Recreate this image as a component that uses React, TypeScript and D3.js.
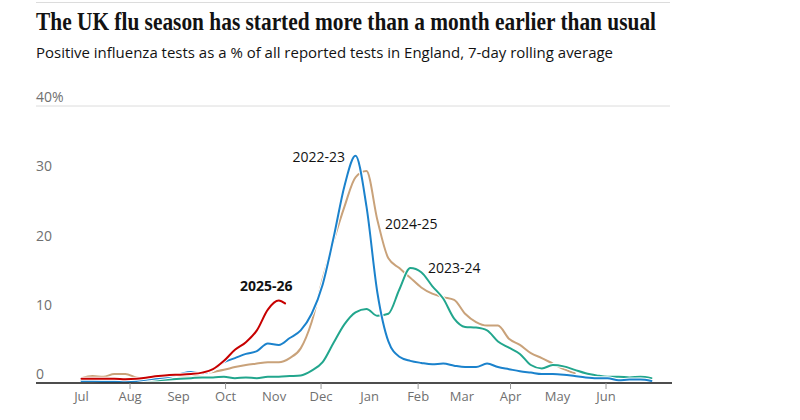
import * as d3 from 'd3';

// Season runs from 1 July to 30 June; values are sampled weekly from 1 July
const seasonStart = new Date(2022, 6, 1);
const seasonEnd = new Date(2023, 6, 1);
const weeks = d3.range(53);

const months = ['Jul', 'Aug', 'Sep', 'Oct', 'Nov', 'Dec', 'Jan', 'Feb', 'Mar', 'Apr', 'May', 'Jun'];
const tickedMonths = ['Aug', 'Oct', 'Dec', 'Feb', 'Apr', 'Jun'];
const yTicks = [0, 10, 20, 30, 40];

// Positivity, % of tests, 7-day rolling average
const flu2022 = [
  0.3, 0.3, 0.2, 0.2, 0.2, 0.3, 0.5, 0.7, 0.9, 1.3, 1.6, 1.4, 1.9, 3.0, 3.6, 4.2, 4.6, 5.7, 5.5, 6.5,
  7.6, 10.0, 14.2, 21.0, 28.5, 32.8, 25.5, 13.0, 6.0, 3.8, 3.2, 2.9, 2.7, 2.8, 2.5, 2.3, 2.3, 2.8, 2.3,
  2.0, 1.7, 1.5, 1.3, 1.3, 1.2, 1.0, 0.8, 0.7, 0.7, 0.4, 0.5, 0.5, 0.3,
];
const flu2023 = [
  0.3, 0.3, 0.2, 0.2, 0.2, 0.2, 0.4, 0.4, 0.5, 0.6, 0.7, 0.8, 0.8, 0.9, 0.7, 0.8, 0.7, 0.9, 0.9, 1.0,
  1.1, 1.8, 3.0, 5.8, 8.5, 10.2, 10.7, 9.7, 10.0, 13.5, 16.6, 16.0, 14.0, 12.2, 9.3, 8.1, 8.0, 7.6, 6.0,
  5.1, 4.2, 2.6, 2.1, 2.6, 2.4, 1.9, 1.4, 1.1, 0.9, 0.9, 0.8, 0.9, 0.7,
];
const flu2024 = [
  0.7, 1.0, 0.9, 1.3, 1.3, 0.8, 0.6, 0.8, 0.9, 1.0, 1.1, 1.3, 1.6, 1.9, 2.3, 2.6, 2.8, 3.0, 3.0, 3.6,
  5.0, 8.8, 15.0, 20.5, 25.5, 29.7, 30.6, 23.5, 18.0, 16.6, 15.2, 13.8, 12.9, 12.4, 12.0, 10.0, 8.8, 8.3,
  8.3, 6.4, 5.5, 4.3, 3.6, 2.8, 2.0, 1.4,
];
const flu2025 = [
  0.6, 0.6, 0.6, 0.6, 0.55, 0.6, 0.8, 1.0, 1.15, 1.2, 1.3, 1.5, 2.0, 3.2, 4.8, 5.9, 7.6, 10.6, 11.9,
];
const latest2025 = { day: 130, value: 11.5 };

const colors = {
  flu2022: '#1b82cc',
  flu2023: '#22a68d',
  flu2024: '#c9a27a',
  flu2025: '#c70000',
};

const x = d3.scaleTime().domain([seasonStart, seasonEnd]).range([81.5, 653]);
const y = d3.scaleLinear().domain([0, 40]).range([383, 106]);

const toPoints = (values: number[]) =>
  values.map((v, i) => ({ date: d3.timeDay.offset(seasonStart, weeks[i] * 7), value: v }));

const line = d3
  .line<{ date: Date; value: number }>()
  .x((d) => x(d.date))
  .y((d) => y(d.value))
  .curve(d3.curveMonotoneX);

const sans = '"Open Sans", "Noto Sans", sans-serif';

export default function App() {
  const series = [
    { key: 'flu2024', points: toPoints(flu2024) },
    { key: 'flu2023', points: toPoints(flu2023) },
    { key: 'flu2022', points: toPoints(flu2022) },
    {
      key: 'flu2025',
      points: [
        ...toPoints(flu2025),
        { date: d3.timeDay.offset(seasonStart, latest2025.day), value: latest2025.value },
      ],
    },
  ];

  const monthStarts = months.map((m, i) => ({ name: m, date: d3.timeMonth.offset(seasonStart, i) }));

  return (
    <svg
      width={800}
      height={420}
      style={{ position: 'absolute', left: 0, top: 0, background: '#fff' }}
    >
      <line x1={36} x2={670} y1={2.5} y2={2.5} stroke="#dcdcdc" strokeWidth={1} />
      <text
        x={36}
        y={30}
        fontFamily='"Liberation Serif", "DejaVu Serif", serif'
        fontWeight={700}
        fontSize={25}
        fill="#121212"
        textLength={620}
        lengthAdjust="spacingAndGlyphs"
      >
        The UK flu season has started more than a month earlier than usual
      </text>
      <text
        x={36}
        y={58}
        fontFamily={sans}
        fontSize={15}
        fill="#121212"
        textLength={577}
        lengthAdjust="spacingAndGlyphs"
      >
        Positive influenza tests as a % of all reported tests in England, 7-day rolling average
      </text>

      {/* y axis */}
      <line x1={36} x2={670} y1={y(40)} y2={y(40)} stroke="#dcdcdc" strokeWidth={1} />
      {yTicks.map((t) => (
        <text key={t} x={36} y={y(t) - 4} fontFamily={sans} fontSize={14} fill="#707070">
          {t === 40 ? '40%' : t}
        </text>
      ))}

      {/* series */}
      {series.map((s) => (
        <g key={s.key} fill="none" strokeLinejoin="round" strokeLinecap="round">
          <path d={line(s.points) || ''} stroke="#fff" strokeWidth={4} />
          <path d={line(s.points) || ''} stroke={colors[s.key]} strokeWidth={2} />
        </g>
      ))}

      {/* x axis */}
      <line x1={36} x2={672} y1={383} y2={383} stroke="#121212" strokeWidth={1.5} />
      {monthStarts.map((m) => (
        <g key={m.name} transform={`translate(${x(m.date)},0)`}>
          {tickedMonths.includes(m.name) && (
            <line y1={383} y2={389} stroke="#999" strokeWidth={1} />
          )}
          <text y={401} textAnchor="middle" fontFamily={sans} fontSize={13} fill="#707070">
            {m.name}
          </text>
        </g>
      ))}

      {/* labels */}
      <g fontFamily={sans} fontSize={14} fill="#121212">
        <text x={345} y={162} textAnchor="end">2022-23</text>
        <text x={385} y={229}>2024-25</text>
        <text x={428} y={273}>2023-24</text>
        <text x={240} y={291} fontWeight={700}>2025-26</text>
      </g>
    </svg>
  );
}
